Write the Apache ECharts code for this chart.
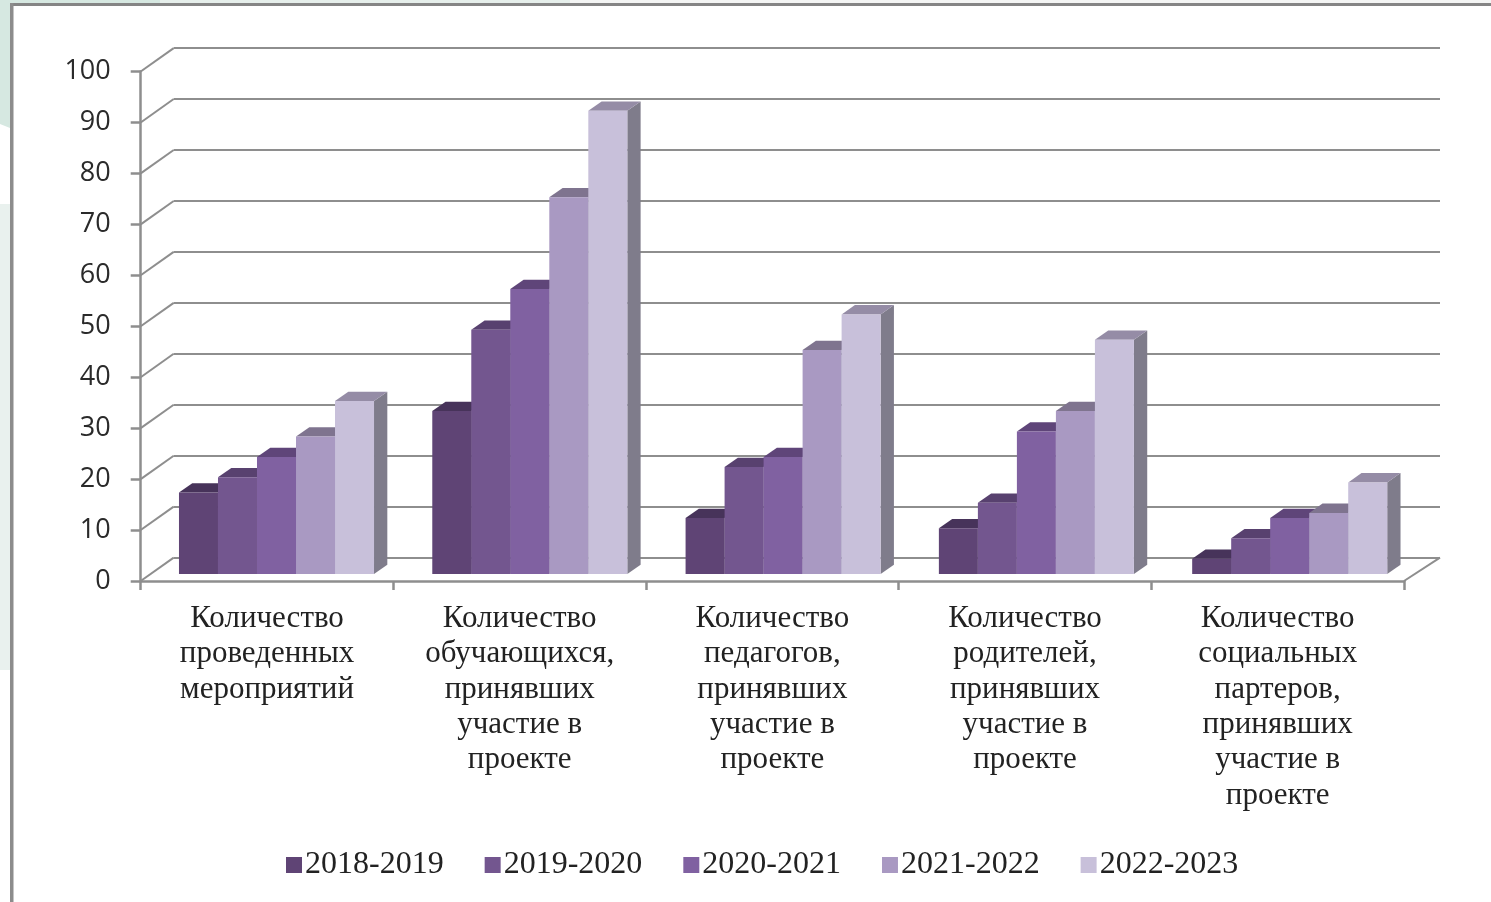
<!DOCTYPE html>
<html><head><meta charset="utf-8">
<style>html,body{margin:0;padding:0;background:#fff}#c{width:1491px;height:902px}</style>
<script src="https://cdn.jsdelivr.net/npm/echarts@6/dist/echarts.min.js"></script>
</head><body><div id="c"></div>
<script>
const categories = [
 "Количество\nпроведенных\nмероприятий",
 "Количество\nобучающихся,\nпринявших\nучастие в\nпроекте",
 "Количество\nпедагогов,\nпринявших\nучастие в\nпроекте",
 "Количество\nродителей,\nпринявших\nучастие в\nпроекте",
 "Количество\nсоциальных\nпартеров,\nпринявших\nучастие в\nпроекте"
];
const seriesNames = ["2018-2019","2019-2020","2020-2021","2021-2022","2022-2023"];
const v2018 = [16,32,11,9,3];
const v2019 = [19,48,21,14,7];
const v2020 = [23,56,23,28,11];
const v2021 = [27,74,44,32,12];
const v2022 = [34,91,51,46,18];
const seriesValues = [v2018,v2019,v2020,v2021,v2022];
const yTicks = [0,10,20,30,40,50,60,70,80,90,100];
const frontColors = ["#5f4475","#73568f","#8061a1","#a999c2","#c8c0da"];
const topColors = ["#47335a","#58416f","#5f4579","#7f748f","#958ca6"];
const sideColors = ["#4a3a5c","#58476e","#625079","#74708a","#7f7c8b"];
const depthX = 13.3, depthY = 9.3, wallX = 33, wallY = 23.4, barFrac = 0.154;
const gridLineColor = "#8e8e8e";

const chart = echarts.init(document.getElementById('c'));

function renderBar(i){
  return function(params, api){
    const cat = api.value(0), val = api.value(1);
    const band = api.size([1,0])[0];
    const w = band*barFrac;
    const c0 = api.coord([cat,0]), c1 = api.coord([cat,val]);
    const x0 = c0[0] + (i-2.5)*w, x1 = x0+w, yb = c0[1], yt = c1[1];
    return {type:'group',children:[
      {type:'polygon',shape:{points:[[x1,yb],[x1+depthX,yb-depthY],[x1+depthX,yt-depthY],[x1,yt]]},style:{fill:sideColors[i]}},
      {type:'polygon',shape:{points:[[x0,yt],[x0+depthX,yt-depthY],[x1+depthX,yt-depthY],[x1,yt]]},style:{fill:topColors[i]}},
      {type:'rect',shape:{x:x0,y:yt,width:w,height:yb-yt},style:{fill:frontColors[i]}}
    ]};
  };
}
const barSeries = seriesNames.map((n,i)=>({
  name:n,type:'custom',xAxisIndex:2,yAxisIndex:2,z:5+i,
  itemStyle:{color:frontColors[i]},
  renderItem:renderBar(i),
  encode:{x:0,y:1},
  data:categories.map((c,k)=>[k,seriesValues[i][k]])
}));

const wallSeries = {
  type:'custom',xAxisIndex:0,yAxisIndex:0,z:2,silent:true,
  renderItem(params,api){
    const v = api.value(1);
    const p = api.coord([0,v]);
    const x = params.coordSys.x;
    return {type:'line',shape:{x1:x,y1:p[1],x2:x+wallX,y2:p[1]-wallY},style:{stroke:gridLineColor,lineWidth:2}};
  },
  encode:{x:0,y:1},
  data:yTicks.map(t=>[0,t])
};
const floorSeries = {
  type:'custom',xAxisIndex:0,yAxisIndex:0,z:2,silent:true,
  renderItem(params,api){
    const cs = params.coordSys, p = api.coord([0,0]);
    const x = cs.x+cs.width;
    return {type:'line',shape:{x1:x,y1:p[1],x2:x+wallX+3,y2:p[1]-wallY},style:{stroke:gridLineColor,lineWidth:2}};
  },
  encode:{x:0,y:1},
  data:[[0,0]]
};

const axisStyle = {lineStyle:{color:gridLineColor,width:2.5}};
chart.setOption({
  animation:false,
  backgroundColor:'#ffffff',
  graphic:[
    {type:'rect',z:-10,shape:{x:0,y:204,width:10,height:466},style:{fill:'#e9f1ee'}},
    {type:'polygon',z:-9,shape:{points:[[0,0],[160,0],[160,3],[10,3],[10,128],[0,124]]},style:{fill:'#d6e8e1'}},
    {type:'rect',z:-9,shape:{x:160,y:0,width:410,height:3},style:{fill:'#e6efeb'}},
    {type:'rect',z:-9,shape:{x:570,y:0,width:921,height:3},style:{fill:'#f4f5f4'}},
    {type:'rect',z:-8,shape:{x:10,y:3,width:1481,height:3},style:{fill:'#858585'}},
    {type:'rect',z:-8,shape:{x:10,y:3,width:3.5,height:899},style:{fill:'#8c8c8c'}}
  ],
  legend:{
    data:seriesNames,left:281,top:844,itemWidth:16,itemHeight:16,itemGap:41,
    icon:'rect',
    textStyle:{fontFamily:'"Liberation Serif"',fontSize:32,color:'#222',padding:[0,0,0,-2]}
  },
  grid:[
    {left:140.7,width:1263.3,top:71.5,height:509.5},
    {left:173.7,width:1266.3,top:48.1,height:509.5},
    {left:149.85,width:1266.5,top:65,height:509}
  ],
  xAxis:[
    {gridIndex:0,type:'category',data:categories,boundaryGap:true,
     axisLine:{show:true,...axisStyle},
     axisTick:{show:true,alignWithLabel:false,length:9,...axisStyle},
     axisLabel:{interval:0,margin:20,fontFamily:'"Liberation Serif"',fontSize:31,lineHeight:35.4,color:'#222',verticalAlign:'top'}},
    {gridIndex:1,type:'category',data:categories,show:false},
    {gridIndex:2,type:'category',data:categories,show:false}
  ],
  yAxis:[
    {gridIndex:0,type:'value',min:0,max:100,interval:10,
     axisLine:{show:true,...axisStyle},
     axisTick:{show:true,length:10,...axisStyle},
     splitLine:{show:false},
     axisLabel:{margin:30,fontFamily:'"Open Sans"',fontSize:27,color:'#2a2a2a'}},
    {gridIndex:1,type:'value',min:0,max:100,interval:10,
     axisLine:{show:false},axisTick:{show:false},axisLabel:{show:false},
     splitLine:{show:true,lineStyle:{color:gridLineColor,width:2}}},
    {gridIndex:2,type:'value',min:0,max:100,interval:10,show:false,splitLine:{show:false}}
  ],
  series:[wallSeries,floorSeries,...barSeries]
});
</script></body></html>
